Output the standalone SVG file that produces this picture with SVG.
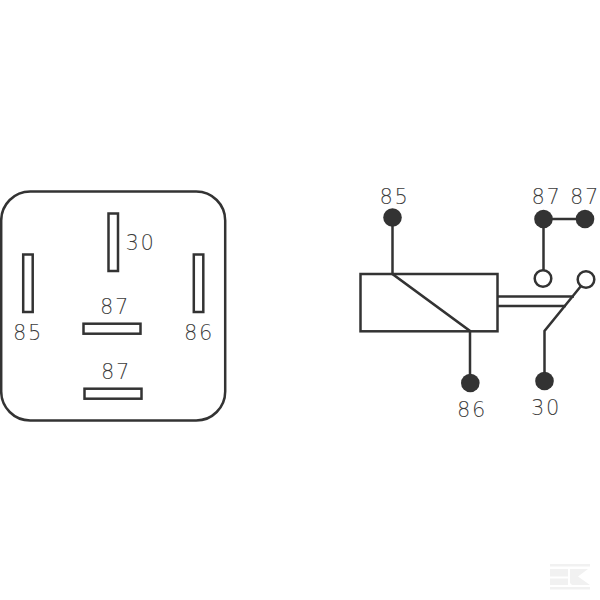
<svg xmlns="http://www.w3.org/2000/svg" width="600" height="600" viewBox="0 0 600 600">
<style>
.s{fill:none;stroke:#333;stroke-width:2.5}
.p{fill:#fff;stroke:#333;stroke-width:2.5}
.d{fill:#333}
.w{fill:#fff;stroke:#333;stroke-width:2.5}
text{font-family:"DejaVu Sans",sans-serif;font-weight:200;font-size:21px;letter-spacing:1.6px;fill:#3c3c3c;text-anchor:middle}
.l{fill:#f1f1f1}
</style>
<rect width="600" height="600" fill="#fff"/>
<g id="connector-view">
<rect class="s" x="1.2" y="191.5" width="224" height="229" rx="29" ry="29"/>
<g id="pin-30"><rect class="p" x="108.5" y="213.5" width="9.5" height="57.5"/><text x="140.5" y="250">30</text></g>
<g id="pin-85"><rect class="p" x="23.2" y="254.5" width="9.5" height="57.5"/><text x="28" y="339.5">85</text></g>
<g id="pin-86"><rect class="p" x="193.8" y="254.5" width="9.5" height="57.5"/><text x="199" y="339.5">86</text></g>
<g id="pin-87a"><rect class="p" x="83.5" y="323.7" width="57" height="10"/><text x="115" y="313.5">87</text></g>
<g id="pin-87b"><rect class="p" x="84.5" y="388.7" width="57" height="10"/><text x="116" y="378.5">87</text></g>
</g>
<g id="connectors">
<path class="s" d="M392.5 217V274L470 331V383"/>
<path class="s" d="M543.5 219H585M543.5 219V270"/>
<path class="s" d="M497 296.5H574M497 306H566"/>
<path class="s" d="M581 286L544.5 331V381"/>
</g>
<g id="coil"><rect class="s" x="360.5" y="274" width="137" height="57.3"/></g>
<g id="t85"><circle class="d" cx="392.5" cy="217.5" r="9.3"/><text x="394.5" y="203.5">85</text></g>
<g id="t87a"><circle class="d" cx="543.5" cy="219" r="9.3"/><text x="546.5" y="203.5">87</text></g>
<g id="t87b"><circle class="d" cx="585" cy="219" r="9.3"/><text x="585" y="203.5">87</text></g>
<g id="t86"><circle class="d" cx="470.3" cy="383" r="9.3"/><text x="472" y="416.5">86</text></g>
<g id="t30"><circle class="d" cx="544.5" cy="381" r="9.3"/><text x="546" y="414.5">30</text></g>
<g id="contact-nc"><circle class="w" cx="543" cy="278.5" r="8.3"/></g>
<g id="contact-no"><circle class="w" cx="586" cy="279.5" r="8.3"/></g>
<g id="logo">
<rect class="l" x="550" y="564" width="40" height="2.5"/>
<rect class="l" x="550" y="587" width="40" height="2.5"/>
<rect class="l" x="550" y="569" width="18" height="7.5"/>
<rect class="l" x="550" y="578.5" width="18" height="6.5"/>
<polygon class="l" points="570,569 588,569 578,576.5 590,585 572,585 570,583"/>
</g>
</svg>
